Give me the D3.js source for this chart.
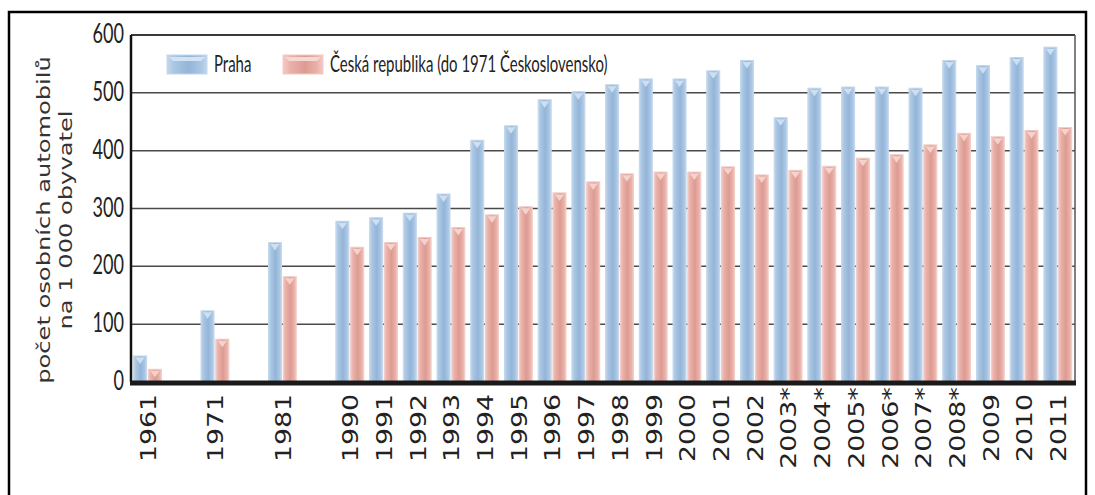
<!DOCTYPE html>
<html>
<head>
<meta charset="utf-8">
<script src="https://cdn.jsdelivr.net/npm/d3@7"></script>
<style>
  html, body { margin: 0; padding: 0; background: #fff; }
  svg { display: block; }
</style>
</head>
<body>
<svg id="chart" width="1095" height="495"></svg>
<script>
// categories (empty strings are the gaps between 1961, 1971, 1981 and 1990)
var years = ["1961", "", "1971", "", "1981", "", "1990", "1991", "1992", "1993", "1994", "1995",
  "1996", "1997", "1998", "1999", "2000", "2001", "2002", "2003*", "2004*", "2005*", "2006*",
  "2007*", "2008*", "2009", "2010", "2011"];
var praha = [45, null, 123, null, 241, null, 278, 284, 292, 325, 418, 443,
  488, 502, 514, 524, 524, 538, 556, 457, 508, 510, 510,
  508, 556, 547, 561, 579];
var cesko = [22, null, 74, null, 182, null, 233, 241, 250, 267, 289, 303,
  327, 346, 360, 363, 363, 372, 358, 366, 373, 387, 393,
  410, 430, 424, 435, 440];
var yTicks = [0, 100, 200, 300, 400, 500, 600];
var seriesNames = ["Praha", "Česká republika (do 1971 Československo)"];
var yTitle = ["počet osobních automobilů", "na 1 000 obyvatel"];

var svg = d3.select("#chart");
var plotL = 131, plotR = 1075, plotT = 35, plotB = 382;

var x = d3.scaleBand()
  .domain(d3.range(years.length))
  .range([plotL, plotR]);
var sub = d3.scaleBand()
  .domain([0, 1])
  .range([2.6, x.bandwidth() - 3.3])
  .paddingInner(0.12);
var y = d3.scaleLinear()
  .domain([0, 600])
  .range([plotB, plotT]);

var colors = [
  {edge: "#c3d7ec", light: "#aac6e3", dark: "#94b5d8", tri: "#d3e3f3"},
  {edge: "#f2cbc5", light: "#eab1a9", dark: "#dc9b92", tri: "#f6d8d3"}
];

var defs = svg.append("defs");
colors.forEach(function(c, i) {
  var g = defs.append("linearGradient").attr("id", "grad" + i)
    .attr("x1", "0%").attr("x2", "100%").attr("y1", "0%").attr("y2", "0%");
  g.append("stop").attr("offset", "0%").attr("stop-color", c.edge);
  g.append("stop").attr("offset", "18%").attr("stop-color", c.light);
  g.append("stop").attr("offset", "55%").attr("stop-color", c.dark);
  g.append("stop").attr("offset", "85%").attr("stop-color", c.light);
  g.append("stop").attr("offset", "100%").attr("stop-color", c.edge);
});

// outer frame
svg.append("rect")
  .attr("x", 9).attr("y", 12)
  .attr("width", 1077).attr("height", 500)
  .attr("fill", "none")
  .attr("stroke", "#000")
  .attr("stroke-width", 2.5);

// grid
svg.append("g").selectAll("line")
  .data(yTicks.filter(function(d) { return d > 0; }))
  .enter().append("line")
  .attr("x1", plotL).attr("x2", plotR)
  .attr("y1", function(d) { return y(d); })
  .attr("y2", function(d) { return y(d); })
  .attr("stroke", function(d) { return d == 600 ? "#3a3a3a" : "#4a4a4a"; })
  .attr("stroke-width", function(d) { return d == 600 ? 2 : 1.5; });

svg.append("line")
  .attr("x1", plotR).attr("x2", plotR)
  .attr("y1", y(600)).attr("y2", y(0))
  .attr("stroke", "#555").attr("stroke-width", 1.5);

// bars
[praha, cesko].forEach(function(vals, si) {
  var c = colors[si];
  var g = svg.append("g");
  var data = vals.map(function(v, i) { return {i: i, v: v}; })
    .filter(function(d) { return d.v != null; });

  g.selectAll("rect").data(data).enter().append("rect")
    .attr("x", function(d) { return x(d.i) + sub(si); })
    .attr("y", function(d) { return y(d.v); })
    .attr("width", sub.bandwidth())
    .attr("height", function(d) { return y(0) - y(d.v); })
    .attr("fill", "url(#grad" + si + ")")
    .attr("stroke", c.edge)
    .attr("stroke-width", 1);

  g.selectAll("path").data(data).enter().append("path")
    .attr("d", function(d) {
      var cx = x(d.i) + sub(si) + sub.bandwidth() / 2, t = y(d.v);
      return "M" + (cx - 4.5) + "," + (t + 1.5) + "L" + (cx + 4.5) + "," + (t + 1.5) + "L" + cx + "," + (t + 8) + "Z";
    })
    .attr("fill", c.tri)
    .attr("opacity", 0.9);
});

// axes lines
svg.append("line")
  .attr("x1", plotL).attr("x2", plotL)
  .attr("y1", y(600)).attr("y2", y(0))
  .attr("stroke", "#111").attr("stroke-width", 2.5);
svg.append("line")
  .attr("x1", plotL - 1).attr("x2", plotR + 1)
  .attr("y1", y(0) + 1).attr("y2", y(0) + 1)
  .attr("stroke", "#1a1a1a").attr("stroke-width", 5);

// y tick labels
svg.append("g").selectAll("text")
  .data(yTicks)
  .enter().append("text")
  .attr("transform", function(d) { return "translate(124," + (y(d) + 8) + ") scale(0.86,1.3)"; })
  .attr("text-anchor", "end")
  .attr("font-family", "Lato, 'Open Sans', sans-serif")
  .attr("font-size", 21)
  .attr("fill", "#222")
  .text(function(d) { return d; });

// x labels
svg.append("g").selectAll("text")
  .data(years.map(function(d, i) { return {i: i, t: d}; }).filter(function(d) { return d.t; }))
  .enter().append("text")
  .attr("transform", function(d) {
    return "translate(" + (x(d.i) + x.bandwidth() / 2 + 8) + ",428) scale(1,1.22) rotate(-90)";
  })
  .attr("text-anchor", "middle")
  .attr("font-family", "'DejaVu Sans', sans-serif")
  .attr("font-size", 22)
  .attr("fill", "#222")
  .text(function(d) { return d.t; });

// y title
svg.append("g").selectAll("text")
  .data(yTitle)
  .enter().append("text")
  .attr("transform", function(d, i) { return "translate(" + (50 + i * 22) + ",220) scale(1,1.38) rotate(-90)"; })
  .attr("text-anchor", "middle")
  .attr("font-family", "'DejaVu Sans', sans-serif")
  .attr("font-size", 17.5)
  .attr("fill", "#333")
  .text(function(d) { return d; });

// legend
var legX = [167, 283];
var leg = svg.append("g");
seriesNames.forEach(function(name, i) {
  leg.append("rect")
    .attr("x", legX[i]).attr("y", 55)
    .attr("width", 40).attr("height", 19)
    .attr("fill", "url(#grad" + i + ")")
    .attr("stroke", colors[i].edge);
  leg.append("path")
    .attr("d", "M" + (legX[i] + 2) + ",57L" + (legX[i] + 38) + ",57L" + (legX[i] + 34) + ",61L" + (legX[i] + 6) + ",61Z")
    .attr("fill", colors[i].tri);
  leg.append("text")
    .attr("transform", "translate(" + (legX[i] + 47) + ",72) scale(0.88,1.3)")
    .attr("font-family", "Lato, 'Open Sans', sans-serif")
    .attr("font-size", 17)
    .attr("fill", "#222")
    .text(name);
});
</script>
</body>
</html>
